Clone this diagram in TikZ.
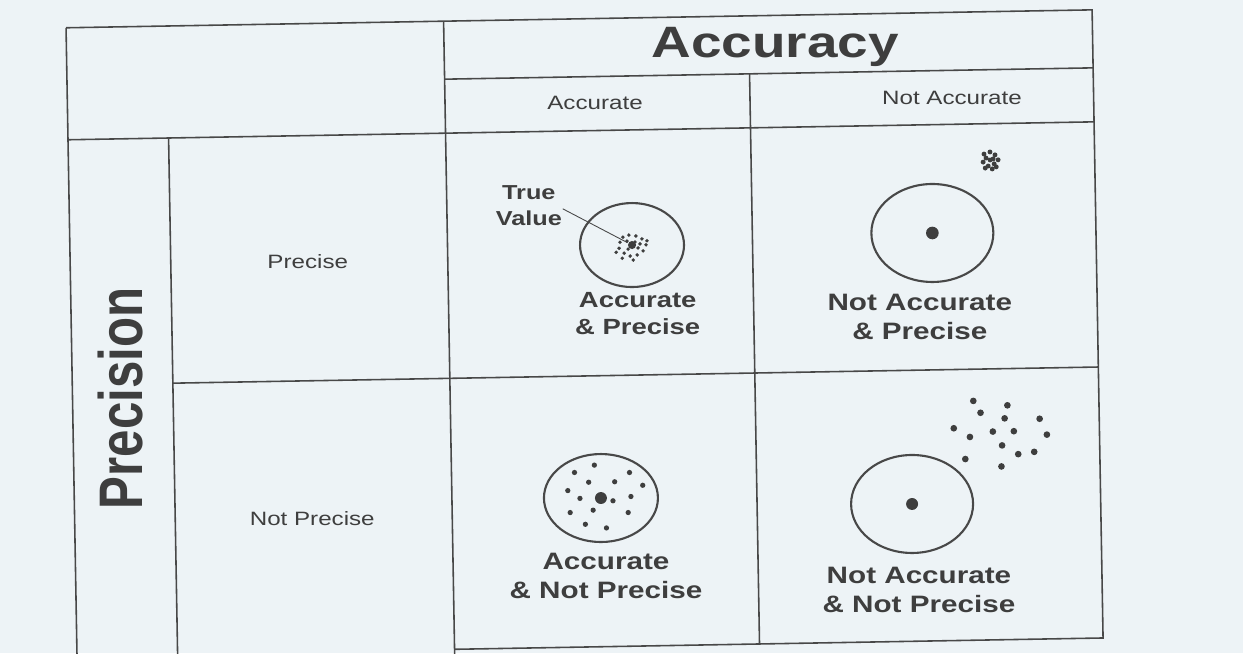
\documentclass[tikz,border=0pt]{standalone}
\usepackage{fontspec}
\setmainfont{Liberation Sans}[FakeStretch=1.25]
\newfontfamily\uprightsans{Liberation Sans}
\usepackage{graphicx}
\definecolor{paper}{RGB}{237,243,246}
\definecolor{ink}{RGB}{62,62,62}
\definecolor{rule}{RGB}{72,72,72}
\usetikzlibrary{shapes.geometric,calc}

\begin{document}
\begin{tikzpicture}[
        x=0.02cm, y=-0.02cm,
        grid/.style={draw=rule, line width=0.9pt},
        head/.style={font=\fontsize{11}{13}\selectfont, text=ink},
        quad/.style={font=\bfseries\fontsize{13.5}{16.5}\selectfont, text=ink, align=center},
        target/.style={ellipse, draw=rule, line width=1.2pt, inner sep=0pt},
        hit/.style={fill=ink},
        pointer/.style={draw=rule, line width=0.5pt, shorten >=3pt}
    ]
        \fill[paper] (0,0) rectangle (1243,653);
        \useasboundingbox (0,0) rectangle (1243,653);
        \clip (0,0) rectangle (1243,653);

        \begin{scope}[rotate around={1:(600,330)}]
        % table
        \draw[grid] (71.4,18.5) -- (1097.6,18.5) -- (1097.6,646.7) -- (449,646.7);
        \draw[grid] (71.4,18.5) -- (71.4,680);
        \draw[grid] (449,18.5) -- (449,680);
        \draw[grid] (449,76.5) -- (1097.6,76.5);
        \draw[grid] (754,76.5) -- (754,646.7);
        \draw[grid] (71.4,130.5) -- (1097.6,130.5);
        \draw[grid] (172,130.5) -- (172,680);
        \draw[grid] (172,375.7) -- (1097.6,375.7);

        \node[font=\bfseries\fontsize{25}{30}\selectfont, text=ink] (acc) at (780,50) {Accuracy};
        \node[head] (hacc)  at (599,103) {Accurate};
        \node[head] (hnacc) at (956,104) {Not Accurate};
        \node[head] (hpre)  at (309,256) {Precise};
        \node[head] (hnpre) at (309,514) {Not Precise};
        \node[rotate=90, text=ink, font=\uprightsans\bfseries\fontsize{28}{30}\selectfont]
            (prec) at (119,390) {\scalebox{1}[1.25]{Precision}};

        % targets
        \node[target, minimum width=2.08cm, minimum height=1.68cm] (t1) at (633.5,245.6) {};
        \node[target, minimum width=2.44cm, minimum height=1.96cm] (t2) at (934,238.8) {};
        \node[target, minimum width=2.28cm, minimum height=1.76cm] (t3) at (598,498) {};
        \node[target, minimum width=2.44cm, minimum height=1.96cm] (t4) at (909,509.4) {};

        \fill[hit] (t1.center) circle (2.3pt);
        \fill[hit] (t2.center) circle (3.6pt);
        \fill[hit] (t3.center) circle (3.4pt);
        \fill[hit] (t4.center) circle (3.4pt);

        \foreach \dx/\dy in {-9/-8,-3/-10,4/-9,10/-6,14/0,11/6,5/10,-2/11,-8/8,-13/3,
                             -12/-3,-5/-4,3/-3,6/3,-4/4,8/-1,-16/7,1/15,-10/13,15/-4}
            \fill[hit] ($(t1.center)+(\dx,\dy)$) circle (1.1pt);
        \foreach \dx/\dy in {-6/-6,0/-8,5/-5,8/0,4/4,-2/6,-7/2,0/0,3/-1,-4/-2,6/7,-5/8,2/9}
            \fill[hit] ($(t2.center)+(59,-72)+(\dx,\dy)$) circle (1.4pt);
        \foreach \dx/\dy in {-6/-33,-26/-26,29/-25,-12/-16,14/-16,42/-12,-33/-8,-21/0,
                             12/3,30/-1,-8/12,-31/14,27/15,-16/26,5/30}
            \fill[hit] ($(t3.center)+(\dx,\dy)$) circle (1.5pt);
        \foreach \dx/\dy in {63/-102,97/-97,70/-90,94/-84,129/-83,43/-75,82/-71,103/-71,
                             59/-66,136/-67,91/-57,107/-48,123/-50,54/-44,90/-36}
            \fill[hit] ($(t4.center)+(\dx,\dy)$) circle (1.9pt);

        \node[font=\bfseries\fontsize{11.5}{14.8}\selectfont, text=ink, align=center]
            (tv) at (531,204) {True\\Value};
        \draw[pointer] ([xshift=-3pt,yshift=-2pt]tv.east) -- (t1.center);

        \node[quad, font=\bfseries\fontsize{12.5}{15.4}\selectfont] (l1) at (638,314)
            {Accurate\\\& Precise};
        \node[quad] (l2) at (920,322.6) {Not Accurate\\\& Precise};
        \node[quad] (l3) at (601.7,576.5) {Accurate\\\& Not Precise};
        \node[quad] (l4) at (914.4,595.6) {Not Accurate\\\& Not Precise};
        \end{scope}
    \end{tikzpicture}
\end{document}
